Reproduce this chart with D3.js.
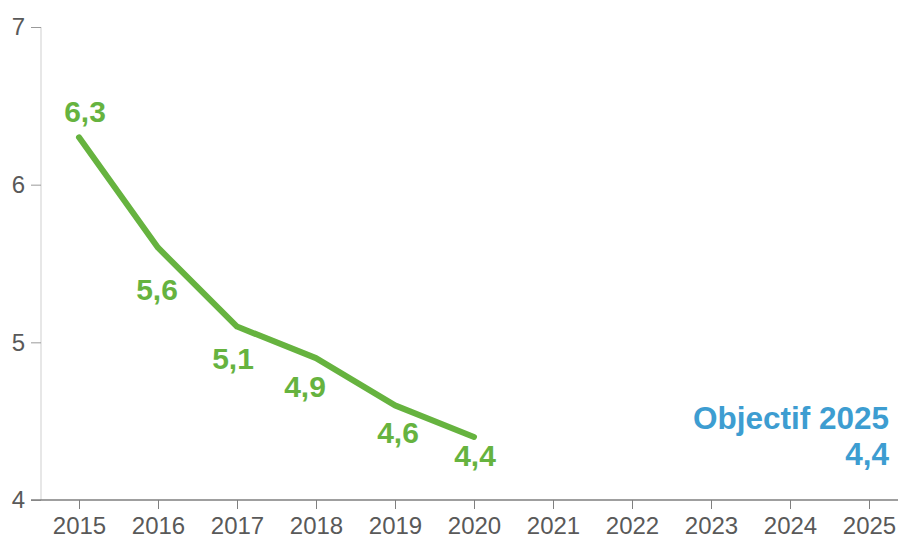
<!DOCTYPE html>
<html>
<head>
<meta charset="utf-8">
<script src="https://cdn.jsdelivr.net/npm/d3@7"></script>
<style>
  body { margin: 0; background: #fff; }
  svg { display: block; font-family: "Liberation Sans", Arial, sans-serif; }
</style>
</head>
<body>
<script>
// data
var years = ["2015", "2016", "2017", "2018", "2019", "2020", "2021", "2022", "2023", "2024", "2025"];
var actualYears = ["2015", "2016", "2017", "2018", "2019", "2020"];
var actualValues = [6.3, 5.6, 5.1, 4.9, 4.6, 4.4];
var yTicks = [4, 5, 6, 7];
var targetTitle = "Objectif 2025";
var targetValue = 4.4;

// label offsets from each point (dx, dy of text baseline)
var labelOffsets = [[6, -15], [-1, 52], [-4, 42], [-11, 39], [3, 38], [1, 29]];

var width = 898, height = 540;
var green = "#66b33f", blue = "#3d9dd1";

var fmt = function(v) { return d3.format(".1f")(v).replace(".", ","); };

var svg = d3.select("body").append("svg")
    .attr("width", width)
    .attr("height", height);

var x = d3.scalePoint().domain(years).range([79, 869]);
var y = d3.scaleLinear().domain([4, 7]).range([500, 27]);

// y axis
var yAxis = svg.append("g")
    .attr("transform", "translate(41,0)")
    .call(d3.axisLeft(y).tickValues(yTicks).tickSize(10).tickPadding(6).tickFormat(d3.format("d")));
yAxis.select(".domain").attr("stroke", "#cfcfcf").attr("d", "M0," + y(7) + "V" + y(4));
yAxis.selectAll(".tick line").attr("stroke", "#9a9a9a");
yAxis.selectAll(".tick text")
    .attr("fill", "#595959")
    .style("font-size", "24px")
    .style("font-family", "Liberation Sans, Arial, sans-serif");

// x axis
var xAxis = svg.append("g")
    .attr("transform", "translate(0," + y(4) + ")")
    .call(d3.axisBottom(x).tickSize(9).tickPadding(8));
xAxis.select(".domain").attr("stroke", "#7f7f7f").attr("stroke-width", 1.5).attr("d", "M31,0H" + width);
xAxis.selectAll(".tick line").attr("stroke", "#7f7f7f");
xAxis.selectAll(".tick text")
    .attr("fill", "#595959")
    .style("font-size", "24px")
    .style("font-family", "Liberation Sans, Arial, sans-serif");

// line
var pts = actualYears.map(function(d, i) { return {year: d, value: actualValues[i], off: labelOffsets[i]}; });
var line = d3.line()
    .x(function(d) { return x(d.year); })
    .y(function(d) { return y(d.value); });

svg.append("path")
    .datum(pts)
    .attr("d", line)
    .attr("fill", "none")
    .attr("stroke", green)
    .attr("stroke-width", 6)
    .attr("stroke-linecap", "round")
    .attr("stroke-linejoin", "round");

// value labels
svg.append("g").selectAll("text")
    .data(pts)
  .enter().append("text")
    .attr("x", function(d) { return x(d.year) + d.off[0]; })
    .attr("y", function(d) { return y(d.value) + d.off[1]; })
    .attr("text-anchor", "middle")
    .attr("fill", green)
    .style("font-size", "30px")
    .style("font-weight", "bold")
    .text(function(d) { return fmt(d.value); });

// target annotation
var tx = x("2025") + 20;
svg.append("text")
    .attr("x", tx)
    .attr("y", 429)
    .attr("text-anchor", "end")
    .attr("fill", blue)
    .style("font-size", "31.5px")
    .style("font-weight", "bold")
    .text(targetTitle);
svg.append("text")
    .attr("x", tx)
    .attr("y", 465)
    .attr("text-anchor", "end")
    .attr("fill", blue)
    .style("font-size", "31.5px")
    .style("font-weight", "bold")
    .text(fmt(targetValue));
</script>
</body>
</html>
